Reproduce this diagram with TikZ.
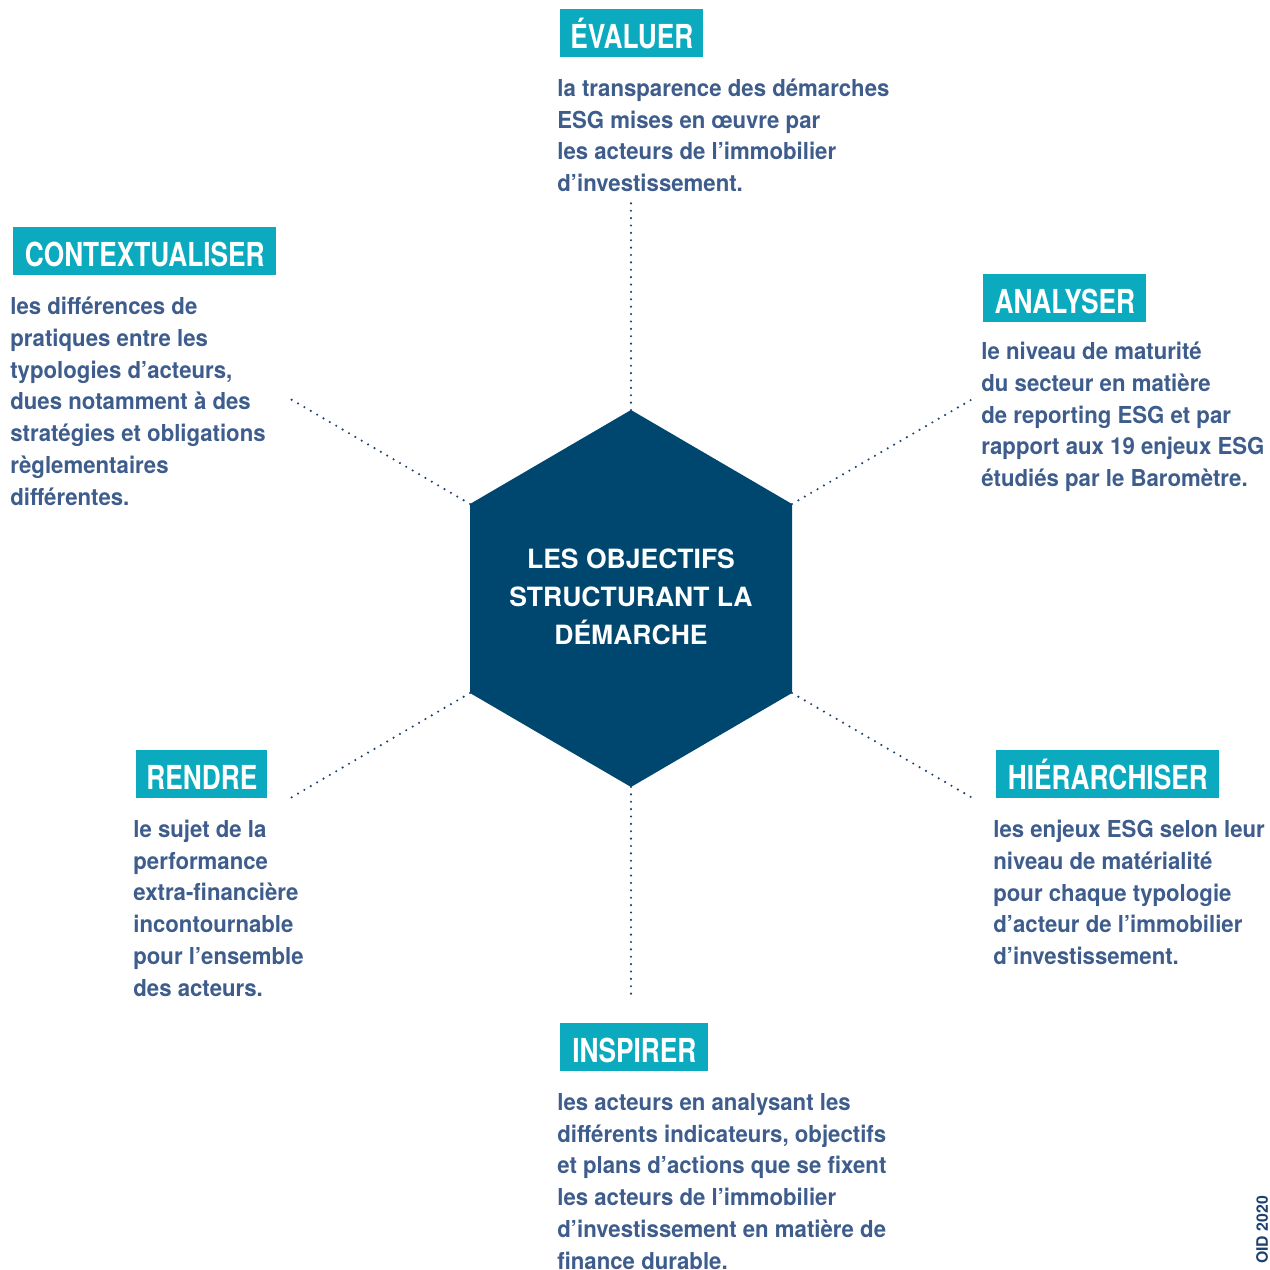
\documentclass[tikz,border=0pt]{standalone}
\usepackage{fontspec}
\setmainfont{TeX Gyre Heros}
\newfontfamily\bodyfont{TeX Gyre Heros}[FakeStretch=0.95]
\newfontfamily\titlefont{TeX Gyre Heros}[FakeStretch=0.795]
\definecolor{hexc}{HTML}{00476F}
\definecolor{tealc}{HTML}{0BAABF}
\definecolor{bodyc}{HTML}{3E5D8C}
\definecolor{dotc}{HTML}{1E4270}
\tikzset{
  titlebox/.style={fill=tealc, text=white, inner sep=0pt, anchor=north west,
    text height=0.78cm, text depth=0.18cm,
    font=\titlefont\bfseries\fontsize{18.8}{20}\selectfont},
  bodytext/.style={text=bodyc, align=left, inner sep=0pt, anchor=base west,
    font=\bodyfont\bfseries\fontsize{13.3}{18.05}\selectfont},
  dotline/.style={draw=dotc, line width=1.35pt, line cap=round, dash pattern=on 0pt off 4.2pt},
}
\begin{document}
\begin{tikzpicture}[x=0.02cm, y=-0.02cm]
\useasboundingbox (0,0) rectangle (1270,1270);
% hexagon vertices
\coordinate (v1) at (631,410);
\coordinate (v2) at (792,504);
\coordinate (v3) at (792,693);
\coordinate (v4) at (631,787);
\coordinate (v5) at (470,693);
\coordinate (v6) at (470,504);
\fill[hexc] (v1) -- (v2) -- (v3) -- (v4) -- (v5) -- (v6) -- cycle;
% (base anchor = baseline of the last line)
\node[text=white, align=center, inner sep=0pt, anchor=base,
  font=\bfseries\fontsize{15.1}{21.5}\selectfont] (hex) at (631,644)
  {LES OBJECTIFS\\STRUCTURANT LA\\DÉMARCHE};
% outer ends of dotted connectors
\coordinate (e1) at (631,198);
\coordinate (e2) at (976,397);
\coordinate (e3) at (976,800);
\coordinate (e4) at (631,1000);
\coordinate (e5) at (287,800);
\coordinate (e6) at (287,397);
\foreach \i in {1,...,6} { \draw[dotline] (v\i) -- (e\i); }
% titles
\node[titlebox, minimum width=2.86cm] (tEval) at (560,9) {ÉVALUER};
\node[titlebox, minimum width=5.26cm] (tCont) at (13,227) {CONTEXTUALISER};
\node[titlebox, minimum width=3.26cm] (tAnal) at (983,274) {ANALYSER};
\node[titlebox, minimum width=2.62cm] (tRend) at (136,750) {RENDRE};
\node[titlebox, minimum width=4.46cm] (tHier) at (996,750) {HIÉRARCHISER};
\node[titlebox, minimum width=2.96cm] (tInsp) at (560,1023) {INSPIRER};
% body texts (positioned at the baseline of their last line)
\node[bodytext] (bEval) at (557,191.5) {la transparence des démarches\\ESG mises en œuvre par\\les acteurs de l’immobilier\\d’investissement.};
\node[bodytext] (bCont) at (10,505) {les différences de\\pratiques entre les\\typologies d’acteurs,\\dues notamment à des\\stratégies et obligations\\règlementaires\\différentes.};
\node[bodytext] (bAnal) at (981,486.5) {le niveau de maturité\\du secteur en matière\\de reporting ESG et par\\rapport aux 19 enjeux ESG\\étudiés par le Baromètre.};
\node[bodytext] (bRend) at (133,996) {le sujet de la\\performance\\extra-financière\\incontournable\\pour l’ensemble\\des acteurs.};
\node[bodytext] (bHier) at (993,964.5) {les enjeux ESG selon leur\\niveau de matérialité\\pour chaque typologie\\d’acteur de l’immobilier\\d’investissement.};
\node[bodytext] (bInsp) at (557,1269) {les acteurs en analysant les\\différents indicateurs, objectifs\\et plans d’actions que se fixent\\les acteurs de l’immobilier\\d’investissement en matière de\\finance durable.};
% credit
\node[text=dotc, rotate=90, inner sep=0pt, font=\bfseries\fontsize{9}{10}\selectfont] (oid) at (1262,1230) {OID 2020};
\end{tikzpicture}
\end{document}
